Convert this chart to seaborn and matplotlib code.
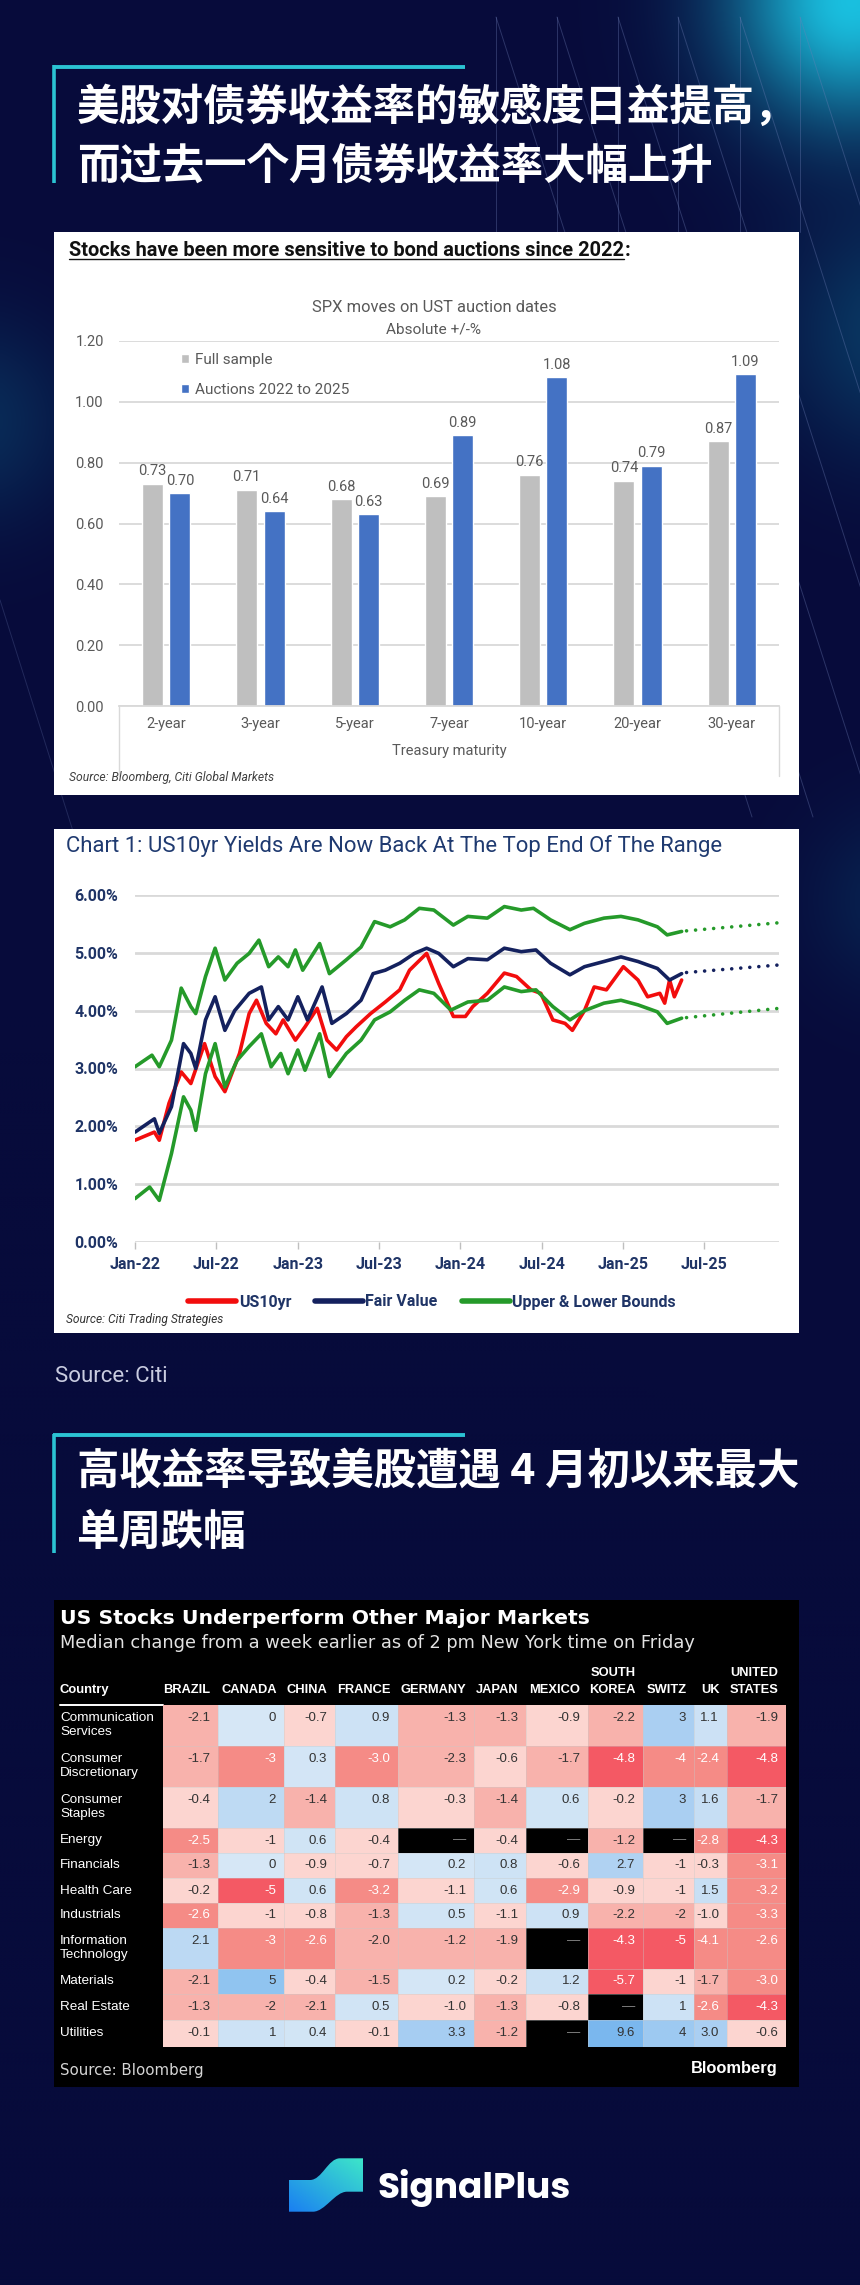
import numpy as np
import pandas as pd
import matplotlib
matplotlib.use('Agg')
import matplotlib.pyplot as plt
import seaborn as sns
from matplotlib import font_manager as fm
from matplotlib.patches import Rectangle, PathPatch
from matplotlib.path import Path
from matplotlib.lines import Line2D
from matplotlib.colors import LinearSegmentedColormap, to_rgb

# ------------------------------------------------------------------ data
title1_lines = ['美股对债券收益率的敏感度日益提高，', '而过去一个月债券收益率大幅上升']
title2_lines = ['高收益率导致美股遭遇 4 月初以来最大', '单周跌幅']
source_citi = 'Source: Citi'

bar_panel_title = 'Stocks have been more sensitive to bond auctions since 2022'
bar_title = 'SPX moves on UST auction dates'
bar_subtitle = 'Absolute +/-%'
maturities = ['2-year', '3-year', '5-year', '7-year', '10-year', '20-year', '30-year']
full_sample = [0.73, 0.71, 0.68, 0.69, 0.76, 0.74, 0.87]
auctions_2022_2025 = [0.70, 0.64, 0.63, 0.89, 1.08, 0.79, 1.09]
bar_series = ['Full sample', 'Auctions 2022 to 2025']
bar_yticks = [0.0, 0.2, 0.4, 0.6, 0.8, 1.0, 1.2]
bar_xlabel = 'Treasury maturity'
bar_source = 'Source: Bloomberg, Citi Global Markets'

line_title = 'Chart 1: US10yr Yields Are Now Back At The Top End Of The Range'
line_source = 'Source: Citi Trading Strategies'
line_series = ['US10yr', 'Fair Value', 'Upper & Lower Bounds']
# x = months since Jan-2022
us10_months = [0, 1.43, 1.79, 2.51, 3.41, 4.12, 5.13, 5.91, 6.63, 7.71,
               8.42, 8.96, 9.68, 10.39, 10.93, 11.83, 12.54, 13.44, 14.16, 14.87,
               15.59, 16.31, 17.38, 18.46, 19.53, 20.25, 21.51, 22.4, 23.48, 24.37,
               24.91, 25.99, 27.24, 28.14, 29.21, 29.93, 30.82, 31.72, 32.26, 33.15,
               33.87, 34.77, 36.02, 37.1, 37.81, 38.71, 39.07, 39.43, 39.78, 40.32]
us10_yield = [1.76, 1.9, 1.76, 2.4, 2.94, 2.74, 3.43, 2.86, 2.6, 3.26,
              3.95, 4.18, 3.78, 3.6, 3.84, 3.49, 3.72, 4.04, 3.49, 3.32,
              3.55, 3.72, 3.95, 4.15, 4.36, 4.7, 4.99, 4.47, 3.9, 3.9,
              4.07, 4.3, 4.65, 4.59, 4.36, 4.3, 3.84, 3.78, 3.66, 4.0,
              4.41, 4.36, 4.76, 4.53, 4.24, 4.3, 4.13, 4.53, 4.24, 4.53]
fair_months = [0, 1.43, 1.79, 2.69, 3.58, 4.12, 4.48, 5.2, 5.91, 6.63,
               7.35, 8.42, 9.32, 9.86, 10.57, 11.29, 12.01, 12.72, 13.8, 14.52,
               15.59, 16.67, 17.56, 18.46, 19.53, 20.61, 21.51, 22.4, 23.48, 24.55,
               25.99, 27.24, 28.49, 29.57, 30.65, 32.08, 33.15, 34.59, 35.84, 37.1,
               38.53, 39.43, 40.32]
fair_value = [1.9, 2.13, 1.88, 2.34, 3.43, 3.26, 3.0, 3.84, 4.24, 3.66,
              4.0, 4.3, 4.41, 3.84, 4.07, 3.84, 4.24, 3.84, 4.41, 3.78,
              3.95, 4.18, 4.64, 4.7, 4.82, 4.99, 5.08, 4.99, 4.76, 4.9,
              4.88, 5.08, 5.02, 5.05, 4.82, 4.62, 4.76, 4.85, 4.93, 4.85,
              4.73, 4.53, 4.64]
upper_months = [0, 1.25, 1.79, 2.69, 3.41, 4.12, 4.48, 5.2, 5.91, 6.63,
                7.53, 8.42, 9.14, 9.86, 10.57, 11.29, 11.83, 12.37, 13.62, 14.34,
                15.59, 16.67, 17.67, 18.82, 19.89, 20.97, 22.04, 23.48, 24.55, 25.99,
                27.24, 28.49, 29.39, 30.65, 32.08, 33.15, 34.59, 35.84, 37.1, 38.53,
                39.25, 40.32]
upper_bound = [3.03, 3.23, 3.03, 3.49, 4.39, 4.07, 3.95, 4.59, 5.08, 4.53,
               4.82, 4.99, 5.22, 4.76, 4.93, 4.76, 5.05, 4.7, 5.16, 4.64,
               4.88, 5.1, 5.54, 5.45, 5.57, 5.77, 5.74, 5.48, 5.63, 5.6,
               5.8, 5.74, 5.77, 5.57, 5.4, 5.51, 5.6, 5.63, 5.57, 5.45,
               5.31, 5.37]
lower_months = [0, 1.08, 1.79, 2.69, 3.58, 4.12, 4.48, 5.2, 5.91, 6.63,
                7.53, 8.42, 9.32, 10.04, 10.75, 11.29, 12.01, 12.54, 13.62, 14.34,
                15.59, 16.67, 17.67, 18.82, 19.89, 20.97, 22.04, 23.3, 24.55, 25.99,
                27.24, 28.49, 29.57, 30.82, 32.08, 33.15, 34.59, 35.84, 37.1, 38.53,
                39.25, 40.32]
lower_bound = [0.75, 0.95, 0.72, 1.53, 2.51, 2.28, 1.93, 2.91, 3.43, 2.68,
               3.14, 3.38, 3.6, 3.03, 3.26, 2.91, 3.32, 2.97, 3.6, 2.86,
               3.26, 3.49, 3.84, 3.98, 4.18, 4.36, 4.3, 4.01, 4.15, 4.18,
               4.41, 4.33, 4.36, 4.07, 3.84, 4.0, 4.13, 4.18, 4.1, 3.98,
               3.78, 3.87]
proj_months = [40.68, 47.49]
fair_proj = [4.66, 4.79]
upper_proj = [5.38, 5.52]
lower_proj = [3.88, 4.04]
line_yticks = [0, 1, 2, 3, 4, 5, 6]
line_xtick_months = [0, 6, 12, 18, 24, 30, 36, 42]
line_xticklabels = ['Jan-22', 'Jul-22', 'Jan-23', 'Jul-23', 'Jan-24', 'Jul-24', 'Jan-25', 'Jul-25']

heat_title = 'US Stocks Underperform Other Major Markets'
heat_subtitle = 'Median change from a week earlier as of 2 pm New York time on Friday'
heat_source = 'Source: Bloomberg'
heat_brand = 'Bloomberg'
heat_corner = 'Country'
countries = ['BRAZIL', 'CANADA', 'CHINA', 'FRANCE', 'GERMANY', 'JAPAN', 'MEXICO',
             'SOUTH\nKOREA', 'SWITZ', 'UK', 'UNITED\nSTATES']
country_decimals = [1, 0, 1, 1, 1, 1, 1, 1, 0, 1, 1]
sectors = ['Communication\nServices', 'Consumer\nDiscretionary', 'Consumer\nStaples', 'Energy',
           'Financials', 'Health Care', 'Industrials', 'Information\nTechnology',
           'Materials', 'Real Estate', 'Utilities']
nan = np.nan
heat_values = [
    [-2.1, 0, -0.7, 0.9, -1.3, -1.3, -0.9, -2.2, 3, 1.1, -1.9],
    [-1.7, -3, 0.3, -3.0, -2.3, -0.6, -1.7, -4.8, -4, -2.4, -4.8],
    [-0.4, 2, -1.4, 0.8, -0.3, -1.4, 0.6, -0.2, 3, 1.6, -1.7],
    [-2.5, -1, 0.6, -0.4, nan, -0.4, nan, -1.2, nan, -2.8, -4.3],
    [-1.3, 0, -0.9, -0.7, 0.2, 0.8, -0.6, 2.7, -1, -0.3, -3.1],
    [-0.2, -5, 0.6, -3.2, -1.1, 0.6, -2.9, -0.9, -1, 1.5, -3.2],
    [-2.6, -1, -0.8, -1.3, 0.5, -1.1, 0.9, -2.2, -2, -1.0, -3.3],
    [2.1, -3, -2.6, -2.0, -1.2, -1.9, nan, -4.3, -5, -4.1, -2.6],
    [-2.1, 5, -0.4, -1.5, 0.2, -0.2, 1.2, -5.7, -1, -1.7, -3.0],
    [-1.3, -2, -2.1, 0.5, -1.0, -1.3, -0.8, nan, 1, -2.6, -4.3],
    [-0.1, 1, 0.4, -0.1, 3.3, -1.2, nan, 9.6, 4, 3.0, -0.6],
]
brand_name = 'SignalPlus'

# ------------------------------------------------------------------ style
sns.set_theme(style='white')
avail = {f.name for f in fm.fontManager.ttflist}


def pick(*names):
    for n in names:
        if n in avail:
            return n
    return 'DejaVu Sans'


cjk_names = ['Noto Sans CJK SC', 'Noto Sans CJK JP', 'Noto Sans CJK TC', 'Noto Sans CJK KR']
CJK_FAM = [n for n in cjk_names if n in avail] or list(cjk_names)
CJK_FAM = CJK_FAM + ['DejaVu Sans']
NARROW = pick('Liberation Sans Narrow', 'Roboto', 'Liberation Sans')
ARIAL = pick('Liberation Sans', 'Arial')
VERD = 'DejaVu Sans'
LOGO = pick('Poppins', 'Lato', 'Inter', 'DejaVu Sans')
plt.rcParams['font.family'] = CJK_FAM
plt.rcParams['axes.unicode_minus'] = False

W, H = 860, 2285
BG = '#070b3b'
CYAN = '#2bc3d3'
GRAY_BAR = '#bfbfbf'
BLUE_BAR = '#4472c4'
XL_TXT = '#595959'
RED = '#f20d0d'
NAVY = '#14215e'
GREEN = '#259a2a'
NAVY_TXT = '#1f3466'

fig = plt.figure(figsize=(W / 100, H / 100), dpi=100)
fig.patch.set_facecolor(BG)
renderer = fig.canvas.get_renderer()


def rect(x0, y0, x1, y1):
    return [x0 / W, 1 - y1 / H, (x1 - x0) / W, (y1 - y0) / H]


def fit(t, width):
    w = t.get_window_extent(renderer).width
    t.set_fontsize(t.get_fontsize() * width / w)
    return t


bg = fig.add_axes([0, 0, 1, 1], zorder=0)
bg.set_xlim(0, W)
bg.set_ylim(H, 0)
bg.axis('off')

# background glows
yy, xx = np.mgrid[0:H:4, 0:W:4]
img = np.ones(xx.shape + (3,)) * np.array(to_rgb(BG))
for cx, cy, r, col, a in [(850, 0, 120, '#1bc9e8', 0.95), (900, 330, 120, '#0e8fb0', 0.35),
                          (-30, 420, 100, '#0e8fb0', 0.25), (900, 900, 90, '#0e8fb0', 0.18)]:
    w = a * np.exp(-(((xx - cx) ** 2 + (yy - cy) ** 2) / r ** 2))
    img = img * (1 - w[..., None]) + np.array(to_rgb(col)) * w[..., None]
bg.imshow(img, extent=(0, W, H, 0), aspect='auto', zorder=0, interpolation='bilinear')
for xv in [496, 557, 618, 678, 740, 800]:
    bg.plot([xv, xv], [17, 232], color='#7080b8', lw=0.7, alpha=0.35, zorder=1)
    bg.plot([xv, xv + 0.32 * 800], [17, 817], color='#7080b8', lw=0.7, alpha=0.35, zorder=1)
bg.plot([0, 120], [600, 980], color='#7080b8', lw=0.7, alpha=0.25, zorder=1)

# panels
bg.add_patch(Rectangle((54, 232), 745, 563, facecolor='white', edgecolor='none', zorder=2))
bg.add_patch(Rectangle((54, 829), 745, 504, facecolor='white', edgecolor='none', zorder=2))
bg.add_patch(Rectangle((54, 1600), 745, 487, facecolor='black', edgecolor='none', zorder=2))

# section headers
for y_top, y_bot in [(66.7, 183), (1435, 1553)]:
    bg.plot([52.5, 465], [y_top, y_top], color=CYAN, lw=2.8, solid_capstyle='butt', zorder=3)
    bg.plot([54, 54], [y_top - 1.5, y_bot], color=CYAN, lw=2.6, solid_capstyle='butt', zorder=3)
t = bg.text(77, 167, title1_lines[1], fontsize=30, fontweight='bold', family=CJK_FAM,
            color='white', va='center', zorder=5)
fit(t, 636)
FS = t.get_fontsize()
bg.text(77, 108, title1_lines[0], fontsize=FS, fontweight='bold', family=CJK_FAM,
        color='white', va='center', zorder=5)
bg.text(77, 1472, title2_lines[0], fontsize=FS, fontweight='bold', family=CJK_FAM,
        color='white', va='center', zorder=5)
bg.text(77, 1533, title2_lines[1], fontsize=FS, fontweight='bold', family=CJK_FAM,
        color='white', va='center', zorder=5)
t = bg.text(55, 1377, source_citi, fontsize=11, family='Roboto', color='#c9cce0', va='center', zorder=5)
fit(t, 112)

# ------------------------------------------------------------------ bar chart
t = bg.text(69, 250, bar_panel_title, fontsize=13, family=NARROW, weight='bold', color='#111111',
            va='center', zorder=5)
fit(t, 555)
bg.plot([69, 624], [258.5, 258.5], color='#111111', lw=1.0, zorder=5)
bg.text(625, 250, ':', fontsize=t.get_fontsize(), family=NARROW, weight='bold', color='#111111',
        va='center', zorder=5)
t = bg.text(434, 307, bar_title, fontsize=12, family=NARROW, color=XL_TXT, ha='center', va='center', zorder=5)
fit(t, 244)
t = bg.text(434, 329, bar_subtitle, fontsize=12, family=NARROW, color=XL_TXT, ha='center', va='center', zorder=5)
fit(t, 95)
t = bg.text(69, 778, bar_source, fontsize=9, family=NARROW, style='italic', color='#404040',
            va='center', zorder=5)
fit(t, 204)
for xv in [119, 779]:
    bg.plot([xv, xv], [706, 776], color='#d9d9d9', lw=1.0, zorder=3)

axb = fig.add_axes(rect(119, 341, 779, 706), zorder=3)
axb.set_facecolor('none')
df_bar = pd.DataFrame({
    'maturity': maturities * 2,
    'value': full_sample + auctions_2022_2025,
    'series': [bar_series[0]] * len(maturities) + [bar_series[1]] * len(maturities),
})
sns.barplot(data=df_bar, x='maturity', y='value', hue='series', palette=[GRAY_BAR, BLUE_BAR],
            saturation=1, width=0.58, gap=0.23, legend=False, errorbar=None, ax=axb)
axb.set_ylim(0, 1.2)
axb.set_xlim(-0.5, len(maturities) - 0.5)
axb.set_yticks(bar_yticks)
axb.set_yticklabels([f'{v:.2f}' for v in bar_yticks])
axb.grid(axis='y', color='#d9d9d9', lw=1.3)
axb.grid(axis='x', visible=False)
axb.set_axisbelow(True)
for s in ['top', 'right', 'left']:
    axb.spines[s].set_visible(False)
axb.spines['bottom'].set_color('#d9d9d9')
axb.spines['bottom'].set_linewidth(1.3)
axb.tick_params(axis='both', length=0, colors=XL_TXT, labelsize=10.5)
axb.tick_params(axis='y', pad=11)
axb.tick_params(axis='x', pad=8)
axb.set_xlabel(bar_xlabel, color=XL_TXT, fontsize=10.5, labelpad=9, family=NARROW)
axb.set_ylabel('')
for lab in axb.get_xticklabels() + axb.get_yticklabels():
    lab.set_family(NARROW)
for cont, vals in zip(axb.containers, [full_sample, auctions_2022_2025]):
    axb.bar_label(cont, labels=[f'{v:.2f}' for v in vals], padding=4, color=XL_TXT,
                  fontsize=10.5, family=NARROW)
handles = [Rectangle((0, 0), 1, 1, facecolor=c) for c in [GRAY_BAR, BLUE_BAR]]
axb.legend(handles, bar_series, loc='upper left', bbox_to_anchor=(181 / W, 1 - 353 / H),
           bbox_transform=fig.transFigure, frameon=False, handlelength=0.55, handleheight=0.55,
           handletextpad=0.35, labelspacing=1.05, prop={'family': NARROW, 'size': 11},
           labelcolor=XL_TXT, borderpad=0, borderaxespad=0)

# ------------------------------------------------------------------ line chart
t = bg.text(66, 846, line_title, fontsize=13, family=NARROW, color='#1f3a70', va='center', zorder=5)
fit(t, 655)
t = bg.text(66, 1320, line_source, fontsize=8, family=NARROW, style='italic', color='#333333',
            va='center', zorder=5)
fit(t, 158)

axl = fig.add_axes(rect(135, 895, 779, 1242), zorder=3)
axl.set_facecolor('none')
LW = 2.6
sns.lineplot(x=us10_months, y=us10_yield, color=RED, lw=LW, ax=axl)
sns.lineplot(x=fair_months, y=fair_value, color=NAVY, lw=LW, ax=axl)
sns.lineplot(x=upper_months, y=upper_bound, color=GREEN, lw=LW, ax=axl)
sns.lineplot(x=lower_months, y=lower_bound, color=GREEN, lw=LW, ax=axl)
for vals, col in [(fair_proj, NAVY), (upper_proj, GREEN), (lower_proj, GREEN)]:
    sns.lineplot(x=proj_months, y=vals, color=col, lw=LW, linestyle=(0, (0.01, 2.5)),
                 dash_capstyle='round', ax=axl)
axl.set_xlim(0, 47.5)
axl.set_ylim(0, 6)
axl.set_yticks(line_yticks)
axl.set_yticklabels([f'{v:.2f}%' for v in line_yticks])
axl.set_xticks(line_xtick_months)
axl.set_xticklabels(line_xticklabels)
axl.grid(axis='y', color='#d9d9d9', lw=2)
axl.grid(axis='x', visible=False)
axl.set_axisbelow(True)
for s in axl.spines.values():
    s.set_visible(False)
axl.tick_params(axis='y', length=0, pad=12, labelcolor=NAVY_TXT, labelsize=11.5)
axl.tick_params(axis='x', length=5, width=1, color='#bfbfbf', direction='out', bottom=True,
                pad=6, labelcolor=NAVY_TXT, labelsize=11.5)
for lab in axl.get_xticklabels() + axl.get_yticklabels():
    lab.set_family(NARROW)
    lab.set_fontweight('bold')
axl.set_xlabel('')
axl.set_ylabel('')
lhandles = [Line2D([0], [0], color=c, lw=4) for c in [RED, NAVY, GREEN]]
axl.legend(lhandles, line_series, ncol=3, loc='center', bbox_to_anchor=(432 / W, 1 - 1302 / H),
           bbox_transform=fig.transFigure, frameon=False, handlelength=3.0, handletextpad=0.15,
           columnspacing=1.5, prop={'family': NARROW, 'weight': 'bold', 'size': 11.5},
           labelcolor=NAVY_TXT, borderpad=0)

# ------------------------------------------------------------------ heat table
t = bg.text(60, 1618, heat_title, fontsize=14, family=VERD, weight='bold', color='white',
            va='center', zorder=5)
fit(t, 530)
t = bg.text(60, 1643, heat_subtitle, fontsize=12, family=VERD, color='#e2e2e2', va='center', zorder=5)
fit(t, 633)
t = bg.text(60, 2070, heat_source, fontsize=10, family=VERD, color='#d5d5d5', va='center', zorder=5)
fit(t, 143)
t = bg.text(778, 2068, heat_brand, fontsize=11, family=ARIAL, weight='bold', color='white',
            ha='right', va='center', zorder=5)
fit(t, 87)
bg.text(60, 1690, heat_corner, fontsize=9.4, family=ARIAL, weight='bold', color='white',
        va='center', zorder=5)
bg.plot([60, 163], [1705, 1705], color='white', lw=1.4, zorder=5)

HX0, HY0 = 163, 1705
col_w = [55, 66, 51, 63, 76, 52, 62, 55, 51, 33, 59]
row_h = [41, 41, 41, 25, 25, 25, 25, 41, 25, 26, 27]
col_edges = np.concatenate([[0], np.cumsum(col_w)])
row_edges = np.concatenate([[0], np.cumsum(row_h)])

vals = np.array(heat_values, dtype=float)
big = np.repeat(np.repeat(vals, row_h, axis=0), col_w, axis=1)
DEEP, SALMON, PINK, LPINK = '#f45964', '#f58b86', '#f8b2ac', '#fcd5d0'
nodes = [(-6, DEEP), (-4.2, DEEP), (-4.2, SALMON), (-2.35, SALMON), (-2.35, PINK),
         (-1.15, PINK), (-1.15, LPINK), (-0.05, LPINK), (-0.05, '#d6e7f6'), (1.5, '#c8dff4'),
         (3, '#aacff2'), (5, '#90c4f0'), (10, '#78b6ee')]
cmap = LinearSegmentedColormap.from_list('bbg', [((v + 6) / 16, c) for v, c in nodes], N=4096)

axh = fig.add_axes(rect(HX0, HY0, HX0 + col_edges[-1], HY0 + row_edges[-1]), zorder=3)
sns.heatmap(big, ax=axh, cmap=cmap, vmin=-6, vmax=10, cbar=False, xticklabels=False,
            yticklabels=False, mask=np.isnan(big))
axh.set_facecolor('black')
axh.set_xlim(0, col_edges[-1])
axh.set_ylim(row_edges[-1], 0)
for xe in col_edges[1:-1]:
    axh.axvline(xe, color='#c8c8c8', lw=0.5, alpha=0.55)
for ye in row_edges[1:-1]:
    axh.axhline(ye, color='#c8c8c8', lw=0.5, alpha=0.55)

for i, sec in enumerate(sectors):
    two = '\n' in sec
    top = row_edges[i]
    if two:
        parts = sec.split('\n')
        bg.text(60, HY0 + top + 12.7, parts[0], fontsize=9.7, family=ARIAL, color='white',
                va='center', zorder=5)
        bg.text(60, HY0 + top + 27.4, parts[1], fontsize=9.7, family=ARIAL, color='white',
                va='center', zorder=5)
        ty = top + 12.7
    else:
        bg.text(60, HY0 + top + row_h[i] / 2, sec, fontsize=9.7, family=ARIAL, color='white',
                va='center', zorder=5)
        ty = top + row_h[i] / 2
    for j in range(len(countries)):
        v = vals[i, j]
        xr = col_edges[j + 1] - 8
        if np.isnan(v):
            axh.text(xr, ty, '—', fontsize=9.5, family=ARIAL, color='#8c8c8c', ha='right', va='center')
        else:
            col = 'white' if v <= -2.35 else '#333333'
            axh.text(xr, ty, f'{v:.{country_decimals[j]}f}', fontsize=9.5, family=ARIAL, color=col,
                     ha='right', va='center')

for j, c in enumerate(countries):
    xr = HX0 + col_edges[j + 1] - 7.5
    parts = c.split('\n')
    if len(parts) == 2:
        bg.text(xr, 1673.3, parts[0], fontsize=9.3, family=ARIAL, weight='bold', color='white',
                ha='right', va='center', zorder=5)
    bg.text(xr, 1690, parts[-1], fontsize=9.3, family=ARIAL, weight='bold', color='white',
            ha='right', va='center', zorder=5)

# ------------------------------------------------------------------ logo
verts = [(289, 2180), (310, 2180), (322, 2180), (328, 2158.3), (340, 2158.3), (363, 2158.3),
         (363, 2191.7), (347, 2191.7), (335, 2191.7), (325, 2211.7), (313, 2211.7), (289, 2211.7),
         (289, 2180)]
codes = [Path.MOVETO, Path.LINETO, Path.CURVE4, Path.CURVE4, Path.CURVE4, Path.LINETO,
         Path.LINETO, Path.LINETO, Path.CURVE4, Path.CURVE4, Path.CURVE4, Path.LINETO, Path.CLOSEPOLY]
patch = PathPatch(Path(verts, codes), facecolor='none', edgecolor='none', zorder=4)
bg.add_patch(patch)
gy, gx = np.mgrid[0:1:64j, 0:1:64j]
tt = np.clip((gx + (1 - gy)) / 2, 0, 1)[..., None]
c0, c1 = np.array(to_rgb('#1a7ff2')), np.array(to_rgb('#3de6c9'))
grad = c0 * (1 - tt) + c1 * tt
im = bg.imshow(grad, extent=(289, 363, 2212, 2158), aspect='auto', zorder=4, interpolation='bilinear')
im.set_clip_path(patch)
t = bg.text(377, 2198, brand_name, fontsize=26, family=LOGO, weight='bold', color='white',
            va='baseline', zorder=5)
fit(t, 193)

fig.savefig('out.png', dpi=100, facecolor=fig.get_facecolor())
